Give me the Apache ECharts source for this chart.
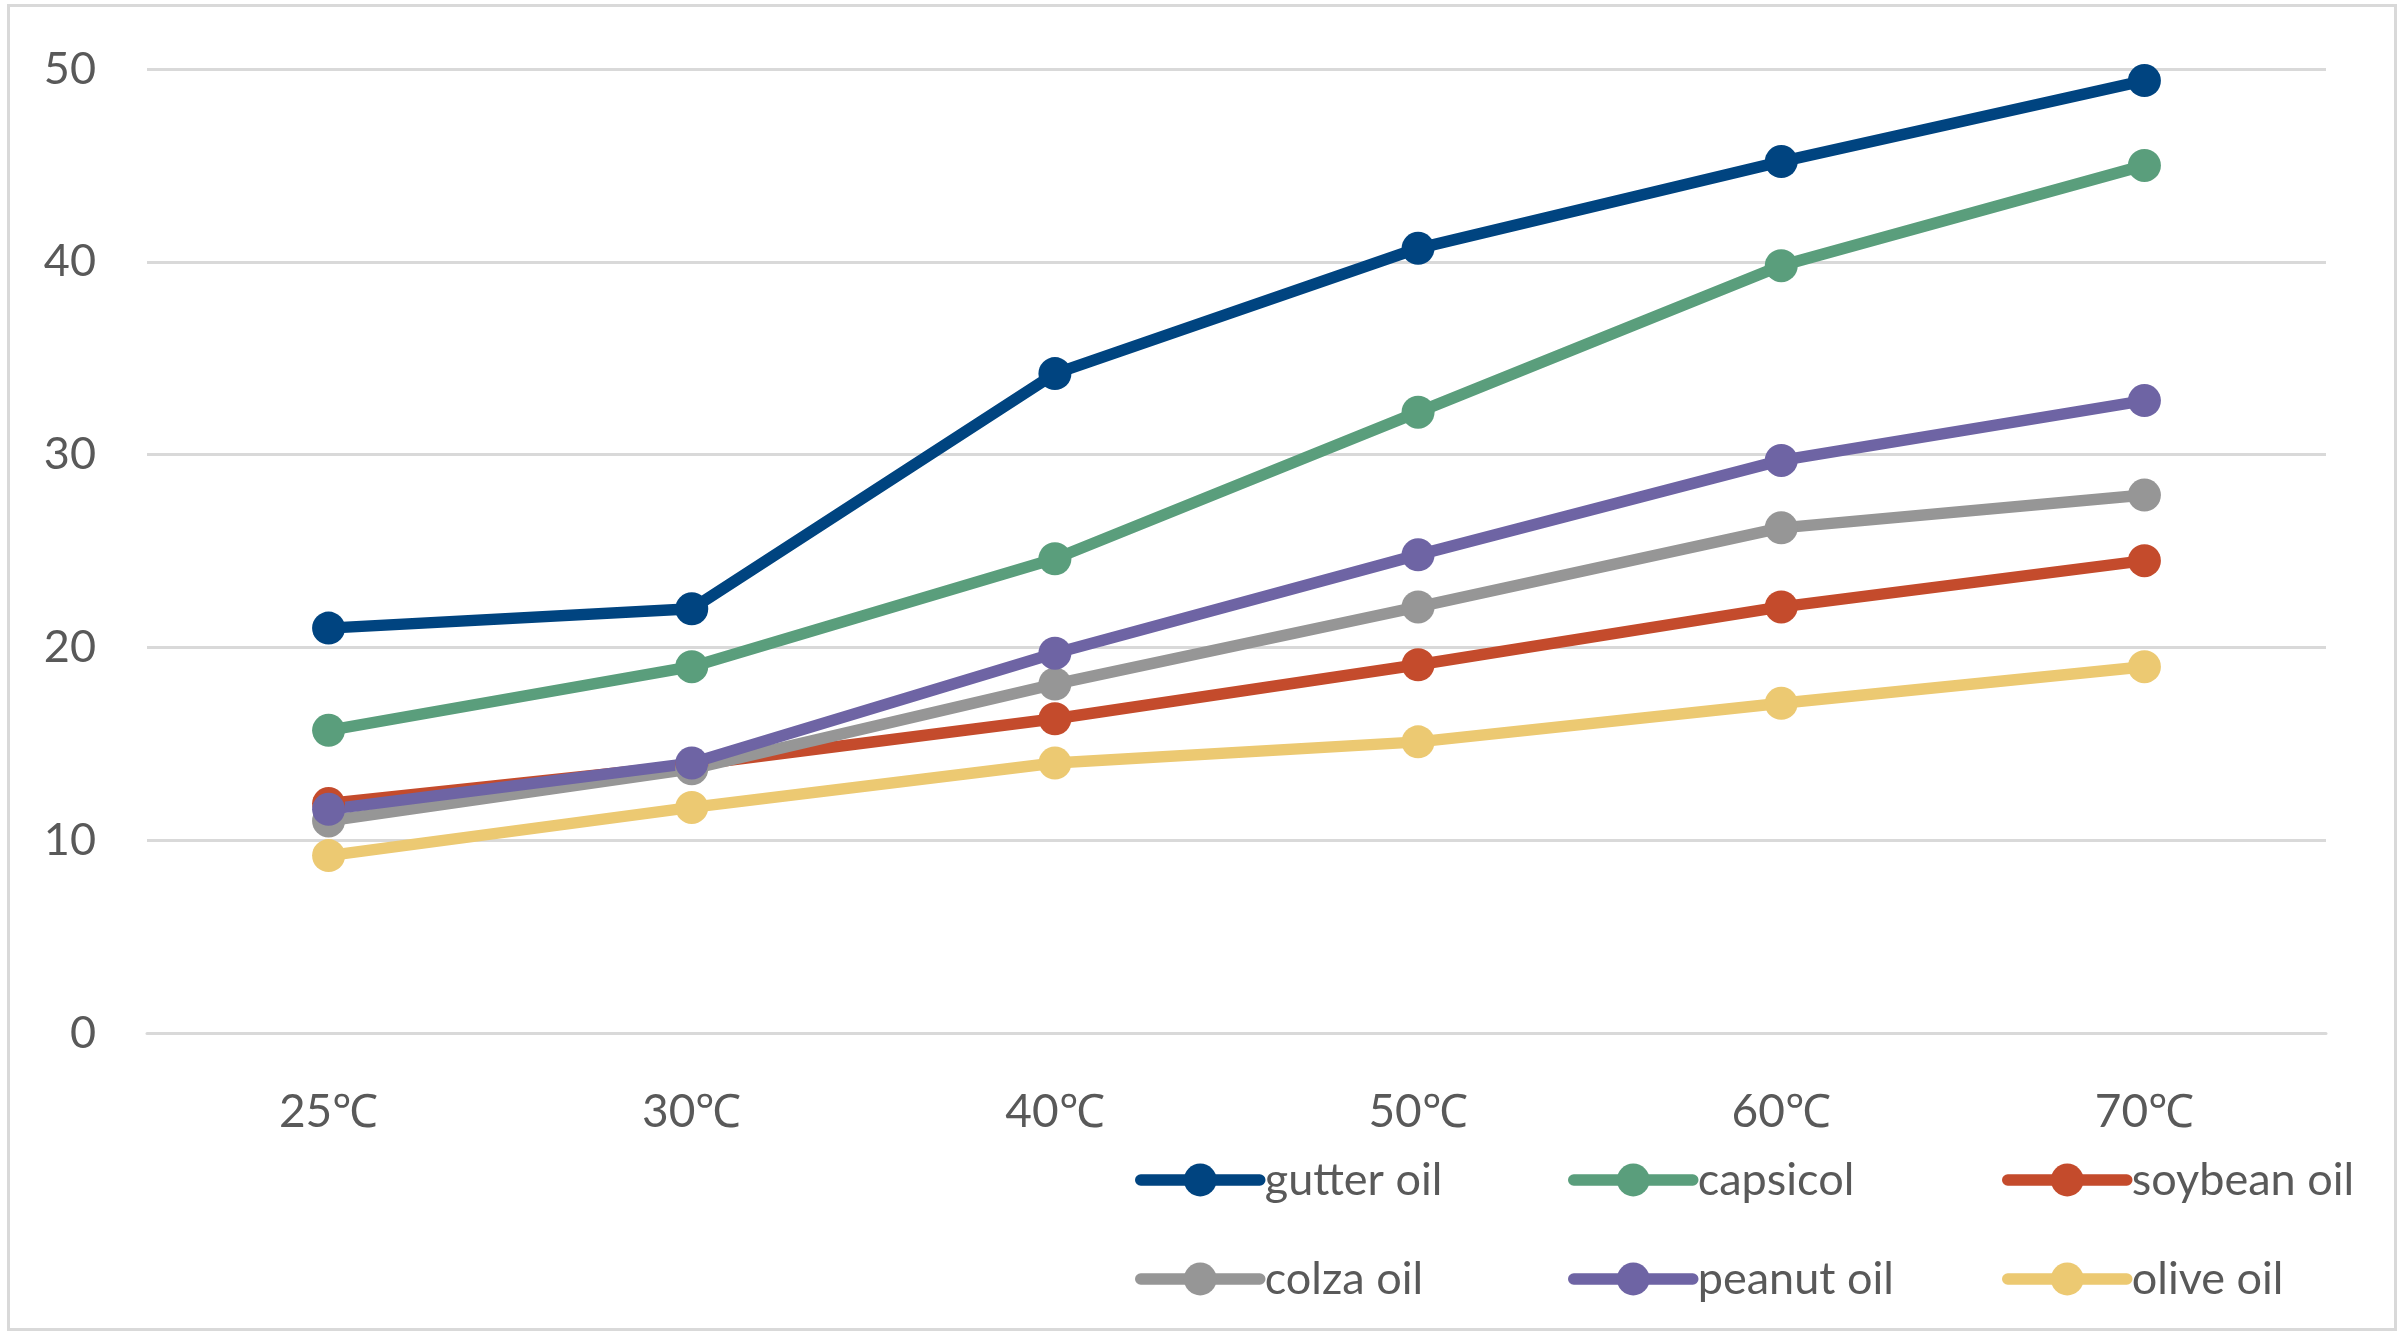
<!DOCTYPE html>
<html>
<head>
<meta charset="utf-8">
<script src="https://cdn.jsdelivr.net/npm/echarts@6/dist/echarts.min.js"></script>
<style>
html,body{margin:0;padding:0;background:#fff;}
#wrap{position:relative;width:2400px;height:1334px;}
#chart{position:absolute;left:0;top:0;width:2400px;height:1334px;}
#frame{position:absolute;left:7px;top:4px;width:2384px;height:1321px;border:3px solid #D9D9D9;pointer-events:none;}
</style>
</head>
<body>
<div id="wrap"><div id="chart"></div><div id="frame"></div></div>
<script>
const categories = ['25℃','30℃','40℃','50℃','60℃','70℃'];
const gutterOil  = [21.0, 22.0, 34.2, 40.7, 45.2, 49.4];
const capsicol   = [15.7, 19.0, 24.6, 32.2, 39.8, 45.0];
const soybeanOil = [11.9, 13.9, 16.3, 19.1, 22.1, 24.5];
const colzaOil   = [11.0, 13.7, 18.1, 22.1, 26.2, 27.9];
const peanutOil  = [11.6, 14.0, 19.7, 24.8, 29.7, 32.8];
const oliveOil   = [9.2, 11.7, 14.0, 15.1, 17.1, 19.0];
const yTicks = [0, 10, 20, 30, 40, 50];

const seriesDefs = [
  {name:'gutter oil', data:gutterOil, color:'#004480'},
  {name:'capsicol', data:capsicol, color:'#5A9E7C'},
  {name:'soybean oil', data:soybeanOil, color:'#C44B2C'},
  {name:'colza oil', data:colzaOil, color:'#969696'},
  {name:'peanut oil', data:peanutOil, color:'#6E64A4'},
  {name:'olive oil', data:oliveOil, color:'#ECC972'}
];

const fontFamily = 'Lato';
const textColor = '#595959';
const LINE_W = 11.5;

function legendCol(names, left){
  return {
    orient:'vertical', left:left, top:1150,
    data:names, itemWidth:119, itemHeight:41, itemGap:49,
    lineStyle:{width:LINE_W, cap:'round'},
    textStyle:{fontFamily:fontFamily, fontSize:45, color:textColor, padding:[0,0,0,0], lineHeight:50},
    selectedMode:false
  };
}

const chart = echarts.init(document.getElementById('chart'), null, {renderer:'canvas'});
chart.setOption({
  backgroundColor:'#ffffff',
  animation:false,
  grid:{left:147, right:74, top:69, bottom:301, containLabel:false},
  legend:[
    legendCol(['gutter oil','colza oil'], 1130),
    legendCol(['capsicol','peanut oil'], 1563),
    legendCol(['soybean oil','olive oil'], 1997)
  ],
  xAxis:{
    type:'category', data:categories, boundaryGap:true,
    axisLine:{show:true, lineStyle:{color:'#D9D9D9', width:3}},
    axisTick:{show:false},
    axisLabel:{fontFamily:fontFamily, fontSize:46, color:textColor, margin:56}
  },
  yAxis:{
    type:'value', min:yTicks[0], max:yTicks[yTicks.length-1], interval:10,
    axisLine:{show:false}, axisTick:{show:false},
    axisLabel:{fontFamily:fontFamily, fontSize:45, color:textColor, margin:51},
    splitLine:{show:true, lineStyle:{color:'#D9D9D9', width:3}}
  },
  series: seriesDefs.map(s => ({
    name:s.name, type:'line', data:s.data,
    symbol:'circle', symbolSize:33, showSymbol:true,
    lineStyle:{color:s.color, width:LINE_W, cap:'round', join:'round'},
    itemStyle:{color:s.color},
    emphasis:{disabled:true}
  }))
});
</script>
</body>
</html>
